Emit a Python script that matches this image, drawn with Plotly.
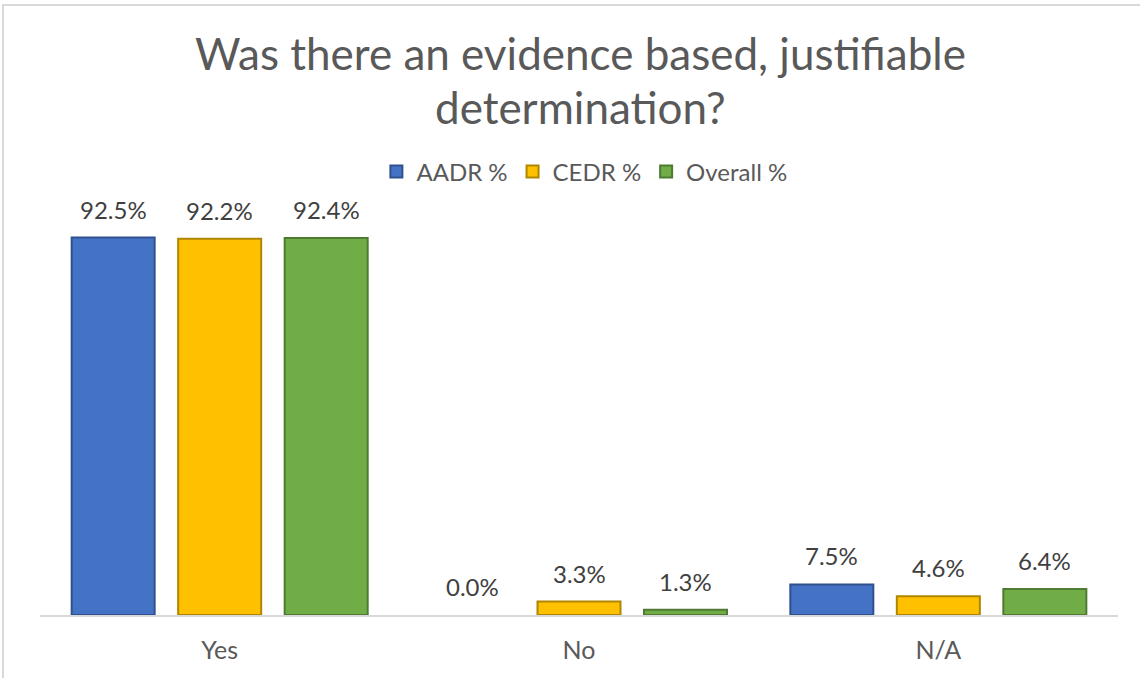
import plotly.graph_objects as go

categories = ["Yes", "No", "N/A"]
aadr_pct = [92.5, 0.0, 7.5]
cedr_pct = [92.2, 3.3, 4.6]
overall_pct = [92.4, 1.3, 6.4]
series_names = ["AADR %", "CEDR %", "Overall %"]
title_lines = ["Was there an evidence based, justifiable", "determination?"]

W, H = 1140, 678
M_L, M_R, M_T, M_B = 40, 22, 207, 63
PLOT_H = H - M_T - M_B

series = [
    (series_names[0], aadr_pct, "#4472C4", "#2F528F"),
    (series_names[1], cedr_pct, "#FFC000", "#B08600"),
    (series_names[2], overall_pct, "#70AD47", "#4E7A31"),
]

pitch = 0.2964   # spacing between bars in a group (category units)
bar_w = 0.231    # bar width (category units)
font = "Lato, sans-serif"


def paper_y(py):
    """Convert a pixel row (from top) to paper coordinates."""
    return (H - M_B - py) / PLOT_H


fig = go.Figure()
annotations = []
x_idx = list(range(len(categories)))
for k, (name, vals, color, edge) in enumerate(series):
    off = (k - 1) * pitch
    fig.add_trace(go.Bar(
        name=name,
        x=x_idx,
        y=vals,
        width=bar_w,
        offset=off - bar_w / 2,
        marker=dict(
            color=color,
            # no outline on zero-height bars
            line=dict(color=edge, width=[2 if v > 0 else 0 for v in vals]),
        ),
        hoverinfo="skip",
    ))
    for i, v in enumerate(vals):
        annotations.append(dict(
            x=i + off, y=v, xref="x", yref="y",
            text=f"{v:.1f}%", showarrow=False,
            yanchor="bottom", yshift=12,
            font=dict(family=font, size=24, color="#404040"),
        ))

# two-line chart title
for line, py in zip(title_lines, [53, 107]):
    annotations.append(dict(
        x=0.501, y=paper_y(py), xref="paper", yref="paper",
        text=line, showarrow=False, xanchor="center", yanchor="middle",
        font=dict(family=font, size=44, color="#595959"),
    ))

# chart frame
fig.add_shape(type="rect", xref="paper", yref="paper",
              x0=-(M_L - 3) / (W - M_L - M_R), x1=1.2,
              y0=-0.5, y1=paper_y(5),
              line=dict(color="#D9D9D9", width=2), layer="below")

fig.update_layout(
    width=W, height=H,
    margin=dict(l=M_L, r=M_R, t=M_T, b=M_B),
    paper_bgcolor="white", plot_bgcolor="white",
    barmode="overlay",
    legend=dict(
        orientation="h", x=0.505, xanchor="center", y=paper_y(172), yanchor="middle",
        font=dict(family=font, size=24, color="#595959"),
        itemwidth=30, traceorder="normal", bgcolor="rgba(0,0,0,0)",
    ),
    xaxis=dict(
        range=[-0.5, 2.5], tickmode="array", tickvals=x_idx, ticktext=categories,
        showgrid=False, zeroline=False, showline=True, linecolor="#D9D9D9",
        linewidth=2, ticks="", ticklen=0, ticklabelstandoff=12,
        tickfont=dict(family=font, size=25, color="#595959"),
    ),
    yaxis=dict(range=[0, 100], visible=False, showgrid=False, zeroline=False),
    annotations=annotations,
    showlegend=True,
)

fig.write_html("out.html")
